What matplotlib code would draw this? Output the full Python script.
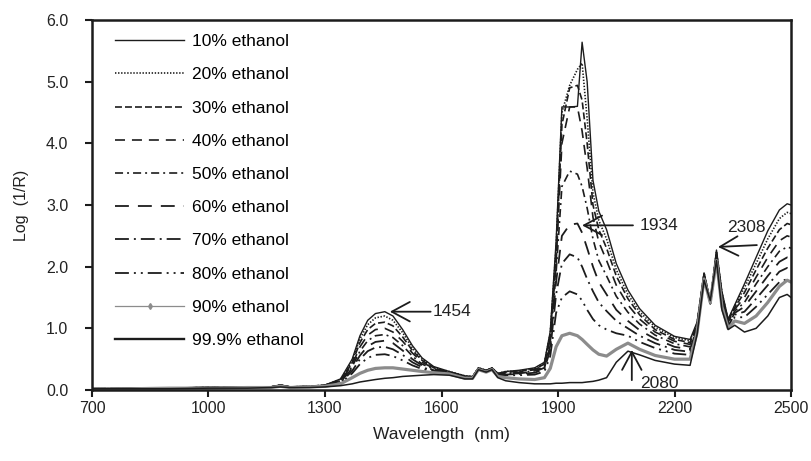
import matplotlib
matplotlib.use("Agg")
import matplotlib.pyplot as plt
from matplotlib.lines import Line2D

plt.rcParams['font.family'] = ['Liberation Sans', 'DejaVu Sans']
plt.rcParams['lines.scale_dashes'] = False

wavelength = [700, 800, 900, 1000, 1100, 1160, 1185, 1210, 1260, 1300,
              1340, 1370, 1390, 1410, 1430, 1454, 1475, 1500, 1525, 1550,
              1580, 1620, 1660, 1680, 1695, 1715, 1730, 1745, 1765, 1800,
              1840, 1865, 1880, 1895, 1910, 1930, 1950, 1962, 1975, 1990,
              2005, 2025, 2050, 2080, 2110, 2150, 2200, 2240, 2258, 2276,
              2292, 2308, 2322, 2338, 2355, 2380, 2410, 2440, 2470, 2490, 2500]

ethanol_10 = [0.02, 0.03, 0.03, 0.04, 0.04, 0.05, 0.08, 0.05, 0.06, 0.08,
              0.18, 0.50, 0.88, 1.13, 1.24, 1.27, 1.20, 0.98, 0.72, 0.52,
              0.38, 0.30, 0.23, 0.22, 0.36, 0.32, 0.36, 0.27, 0.30, 0.32,
              0.36, 0.45, 0.95, 2.40, 4.59, 4.59, 4.60, 5.64, 5.00, 3.40,
              2.90, 2.60, 2.05, 1.62, 1.32, 1.05, 0.87, 0.82, 1.10, 1.90,
              1.45, 2.27, 1.60, 1.15, 1.38, 1.72, 2.15, 2.58, 2.92, 3.02, 3.00]
ethanol_20 = [0.02, 0.03, 0.03, 0.04, 0.04, 0.05, 0.08, 0.05, 0.06, 0.08,
              0.17, 0.47, 0.83, 1.06, 1.17, 1.20, 1.13, 0.93, 0.68, 0.50,
              0.37, 0.30, 0.23, 0.22, 0.36, 0.32, 0.36, 0.27, 0.30, 0.31,
              0.35, 0.44, 0.92, 2.30, 4.50, 4.94, 5.20, 5.30, 4.40, 3.20,
              2.75, 2.45, 1.95, 1.55, 1.27, 1.02, 0.85, 0.80, 1.08, 1.90,
              1.44, 2.25, 1.58, 1.13, 1.36, 1.66, 2.05, 2.45, 2.78, 2.88, 2.86]
ethanol_30 = [0.02, 0.03, 0.03, 0.04, 0.04, 0.05, 0.08, 0.05, 0.06, 0.08,
              0.16, 0.44, 0.77, 0.98, 1.08, 1.10, 1.04, 0.86, 0.64, 0.48,
              0.36, 0.29, 0.22, 0.21, 0.35, 0.31, 0.35, 0.26, 0.29, 0.30,
              0.34, 0.42, 0.88, 2.20, 4.30, 4.90, 4.94, 4.70, 4.00, 3.00,
              2.60, 2.30, 1.85, 1.48, 1.22, 0.98, 0.82, 0.77, 1.06, 1.88,
              1.43, 2.22, 1.55, 1.12, 1.34, 1.58, 1.95, 2.30, 2.60, 2.70, 2.68]
ethanol_40 = [0.02, 0.03, 0.03, 0.04, 0.04, 0.05, 0.08, 0.05, 0.06, 0.07,
              0.15, 0.41, 0.70, 0.89, 0.98, 1.00, 0.94, 0.79, 0.60, 0.45,
              0.35, 0.29, 0.22, 0.21, 0.35, 0.31, 0.35, 0.26, 0.28, 0.29,
              0.33, 0.40, 0.84, 2.05, 4.00, 4.59, 4.59, 4.20, 3.60, 2.80,
              2.40, 2.10, 1.70, 1.38, 1.15, 0.94, 0.79, 0.74, 1.04, 1.87,
              1.42, 2.20, 1.52, 1.10, 1.31, 1.50, 1.83, 2.15, 2.42, 2.50, 2.48]
ethanol_50 = [0.02, 0.03, 0.03, 0.04, 0.04, 0.05, 0.07, 0.05, 0.05, 0.07,
              0.14, 0.38, 0.63, 0.80, 0.88, 0.90, 0.85, 0.72, 0.55, 0.42,
              0.34, 0.28, 0.21, 0.20, 0.35, 0.31, 0.35, 0.25, 0.27, 0.28,
              0.31, 0.38, 0.78, 1.90, 3.30, 3.55, 3.50, 3.30, 2.95, 2.45,
              2.10, 1.85, 1.52, 1.26, 1.07, 0.89, 0.75, 0.70, 1.02, 1.86,
              1.41, 2.18, 1.50, 1.08, 1.28, 1.42, 1.72, 2.00, 2.25, 2.32, 2.30]
ethanol_60 = [0.02, 0.03, 0.03, 0.04, 0.04, 0.05, 0.07, 0.05, 0.05, 0.07,
              0.13, 0.35, 0.56, 0.71, 0.78, 0.80, 0.76, 0.64, 0.50, 0.40,
              0.32, 0.28, 0.21, 0.20, 0.34, 0.30, 0.34, 0.25, 0.26, 0.27,
              0.30, 0.36, 0.72, 1.75, 2.50, 2.68, 2.70, 2.55, 2.30, 2.00,
              1.75, 1.55, 1.30, 1.12, 0.97, 0.83, 0.70, 0.66, 1.00, 1.85,
              1.40, 2.16, 1.47, 1.06, 1.25, 1.35, 1.60, 1.85, 2.08, 2.15, 2.12]
ethanol_70 = [0.02, 0.03, 0.03, 0.04, 0.04, 0.05, 0.07, 0.05, 0.05, 0.07,
              0.12, 0.31, 0.50, 0.63, 0.69, 0.70, 0.66, 0.57, 0.45, 0.37,
              0.31, 0.27, 0.20, 0.20, 0.34, 0.30, 0.34, 0.24, 0.25, 0.26,
              0.28, 0.34, 0.65, 1.55, 2.05, 2.20, 2.15, 2.00, 1.80, 1.60,
              1.42, 1.28, 1.12, 1.00, 0.88, 0.76, 0.65, 0.62, 0.98, 1.84,
              1.40, 2.14, 1.44, 1.04, 1.22, 1.27, 1.48, 1.70, 1.92, 1.98, 1.95]
ethanol_80 = [0.02, 0.03, 0.03, 0.04, 0.04, 0.05, 0.07, 0.05, 0.05, 0.06,
              0.11, 0.27, 0.42, 0.52, 0.57, 0.58, 0.55, 0.48, 0.40, 0.34,
              0.30, 0.27, 0.20, 0.19, 0.34, 0.30, 0.34, 0.24, 0.24, 0.24,
              0.25, 0.30, 0.55, 1.25, 1.50, 1.60, 1.55, 1.45, 1.30, 1.15,
              1.05, 0.98, 0.92, 0.88, 0.78, 0.68, 0.59, 0.57, 0.96, 1.83,
              1.40, 2.12, 1.40, 1.02, 1.18, 1.18, 1.35, 1.55, 1.75, 1.80, 1.75]
ethanol_90 = [0.02, 0.02, 0.03, 0.03, 0.04, 0.04, 0.06, 0.04, 0.05, 0.06,
              0.10, 0.20, 0.27, 0.32, 0.35, 0.36, 0.36, 0.34, 0.32, 0.30,
              0.28, 0.26, 0.19, 0.19, 0.33, 0.29, 0.33, 0.22, 0.20, 0.18,
              0.17, 0.20, 0.35, 0.70, 0.88, 0.92, 0.88, 0.82, 0.74, 0.65,
              0.58, 0.55, 0.66, 0.76, 0.66, 0.56, 0.50, 0.50, 0.93, 1.80,
              1.42, 2.10, 1.35, 1.00, 1.12, 1.08, 1.20, 1.42, 1.68, 1.78, 1.75]
ethanol_999 = [0.02, 0.02, 0.02, 0.03, 0.03, 0.04, 0.05, 0.04, 0.04, 0.05,
               0.07, 0.10, 0.13, 0.15, 0.17, 0.19, 0.20, 0.22, 0.23, 0.24,
               0.25, 0.24, 0.18, 0.18, 0.33, 0.29, 0.33, 0.20, 0.15, 0.12,
               0.10, 0.10, 0.10, 0.11, 0.11, 0.12, 0.12, 0.12, 0.13, 0.14,
               0.16, 0.20, 0.45, 0.63, 0.57, 0.48, 0.42, 0.40, 0.90, 1.78,
               1.45, 2.10, 1.30, 0.98, 1.05, 0.94, 1.00, 1.20, 1.50, 1.55, 1.50]

series_labels = ['10% ethanol', '20% ethanol', '30% ethanol', '40% ethanol',
                 '50% ethanol', '60% ethanol', '70% ethanol', '80% ethanol',
                 '90% ethanol', '99.9% ethanol']
series_values = [ethanol_10, ethanol_20, ethanol_30, ethanol_40, ethanol_50,
                 ethanol_60, ethanol_70, ethanol_80, ethanol_90, ethanol_999]

x_ticks = [700, 1000, 1300, 1600, 1900, 2200, 2500]
y_ticks = [0.0, 1.0, 2.0, 3.0, 4.0, 5.0, 6.0]

peak_labels = ['1454', '1934', '2308', '2080']

BLACK = '#1c1c1c'
GREY = '#8c8c8c'
styles = [
    dict(color=BLACK, lw=1.0, ls='-'),
    dict(color=BLACK, lw=1.2, ls=(0, (1.0, 1.2))),
    dict(color=BLACK, lw=1.2, ls=(0, (5.0, 2.2))),
    dict(color=BLACK, lw=1.2, ls=(0, (7.2, 5.0))),
    dict(color=BLACK, lw=1.2, ls=(0, (5.8, 2.9, 1.4, 2.9))),
    dict(color=BLACK, lw=1.3, ls=(0, (10.0, 6.5))),
    dict(color=BLACK, lw=1.3, ls=(0, (10.0, 3.6, 1.4, 3.6))),
    dict(color=BLACK, lw=1.3, ls=(0, (10.0, 3.6, 1.4, 3.6, 1.4, 3.6))),
    dict(color=GREY, lw=2.3, ls='-'),
    dict(color=BLACK, lw=1.1, ls='-'),
]

fig = plt.figure(figsize=(8.11, 4.61), dpi=100)
ax = fig.add_axes([0.1134, 0.154, 0.862, 0.8026])

for vals, lab, st in zip(series_values, series_labels, styles):
    ax.plot(wavelength, vals, color=st['color'], lw=st['lw'],
            linestyle=st['ls'], label=lab)

leg_handles = []
for i, (lab, st) in enumerate(zip(series_labels, styles)):
    if i == 8:
        leg_handles.append(Line2D([], [], color=GREY, lw=0.9, marker='d',
                                  markersize=3, markerfacecolor=GREY,
                                  markeredgecolor=GREY))
    elif i == 9:
        leg_handles.append(Line2D([], [], color=BLACK, lw=1.7, ls='-'))
    else:
        leg_handles.append(Line2D([], [], color=st['color'], lw=st['lw'],
                                  linestyle=st['ls']))

leg = ax.legend(leg_handles, series_labels, loc='upper left',
                bbox_to_anchor=(0.033, 0.962), frameon=False,
                fontsize=12.5, handlelength=4.0, handletextpad=0.42,
                labelspacing=1.04, borderpad=0, borderaxespad=0, numpoints=1)

ax.set_xlim(700, 2500)
ax.set_ylim(0, 6)
ax.set_xticks(x_ticks)
ax.set_yticks(y_ticks)
ax.set_yticklabels(['%.1f' % v for v in y_ticks])
ax.tick_params(axis='both', direction='out', length=5, width=1.5,
               labelsize=11.5, color=BLACK, labelcolor='#222222')
ax.tick_params(axis='x', pad=3)
ax.tick_params(axis='y', pad=12)
for sp in ax.spines.values():
    sp.set_linewidth(1.8)
    sp.set_color(BLACK)

ax.set_xlabel('Wavelength  (nm)', fontsize=12.5, color='#222222', labelpad=8)
ax.set_ylabel('Log  (1/R)', fontsize=11.5, color='#222222', labelpad=12)

arrow = dict(arrowstyle='->,head_length=0.65,head_width=0.35', lw=1.3,
             color=BLACK, shrinkA=0, shrinkB=0, mutation_scale=20)
# 1454
ax.annotate('', xy=(1467, 1.27), xytext=(1572, 1.27), arrowprops=arrow)
ax.text(1578, 1.27, peak_labels[0], fontsize=12.5, va='center', ha='left', color='#222222')
# 1934
ax.annotate('', xy=(1962, 2.67), xytext=(2093, 2.67), arrowprops=arrow)
ax.text(2110, 2.67, peak_labels[1], fontsize=12.5, va='center', ha='left', color='#222222')
# 2308
ax.annotate('', xy=(2312, 2.32), xytext=(2412, 2.35), arrowprops=arrow)
ax.text(2384, 2.64, peak_labels[2], fontsize=12.5, va='center', ha='center', color='#222222')
# 2080
ax.annotate('', xy=(2090, 0.65), xytext=(2090, 0.16), arrowprops=arrow)
ax.text(2160, 0.11, peak_labels[3], fontsize=12.5, va='center', ha='center', color='#222222')

fig.savefig('out.png', dpi=100)
